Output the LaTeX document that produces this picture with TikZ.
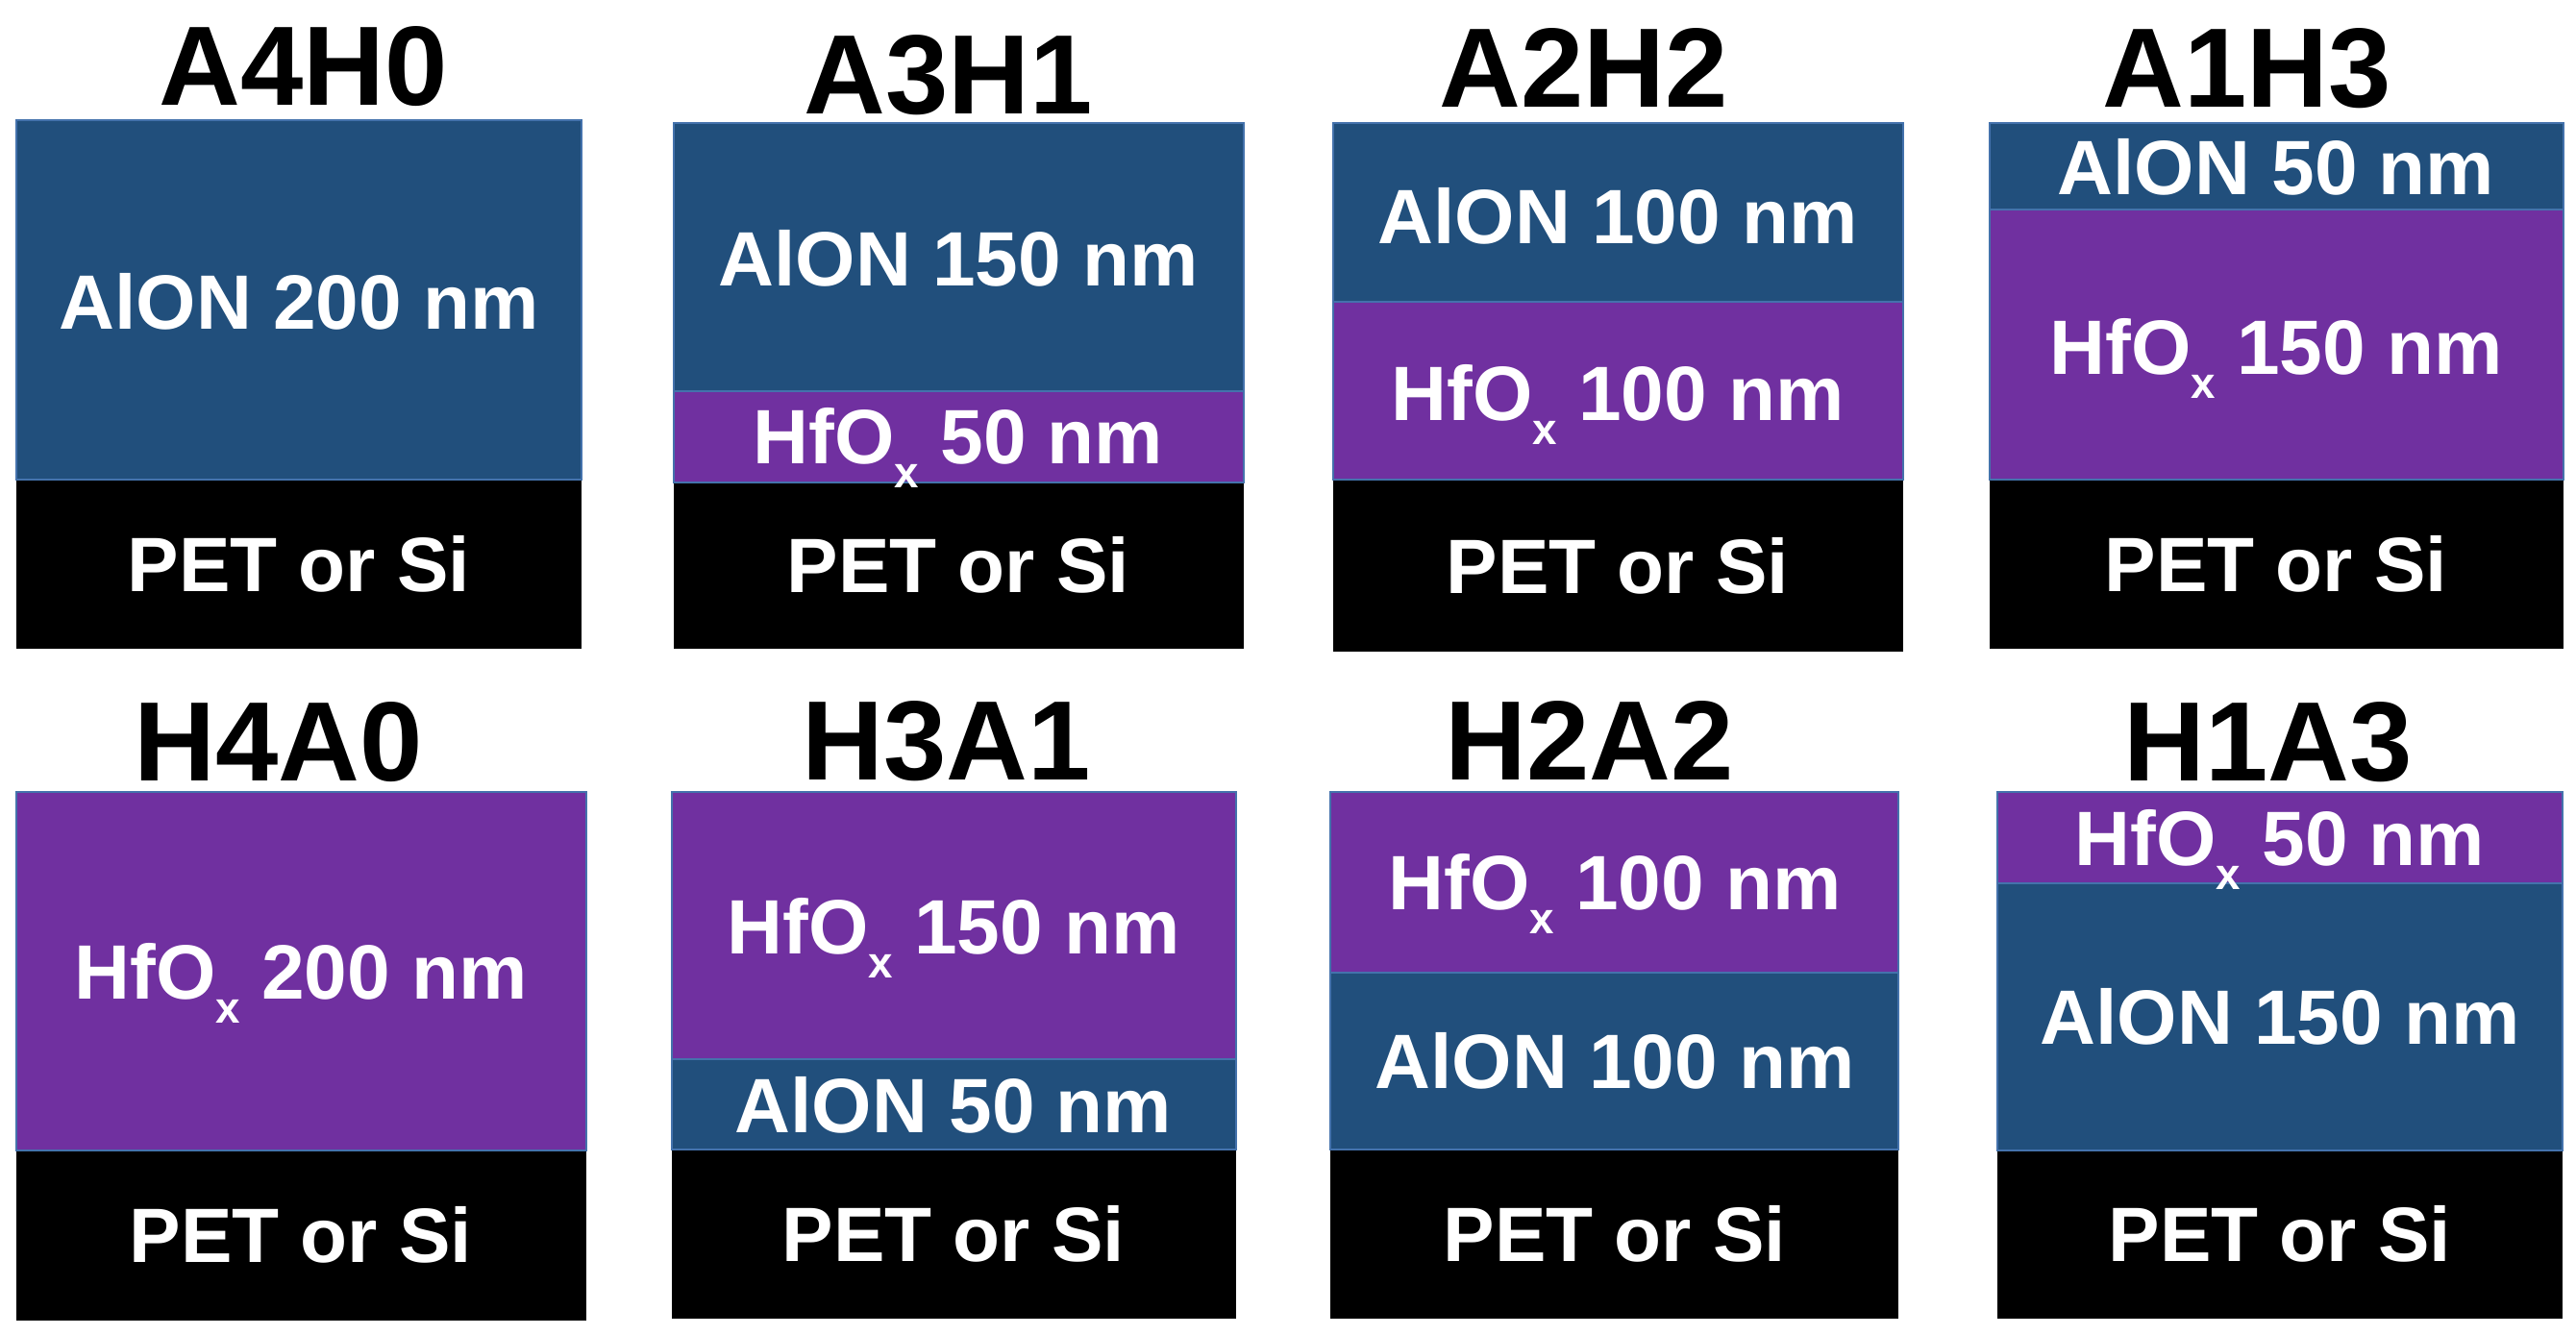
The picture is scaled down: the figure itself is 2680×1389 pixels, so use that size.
\documentclass[tikz,border=0pt]{standalone}
\usepackage{fontspec}
\setmainfont{Liberation Sans}
\definecolor{alon}{RGB}{33,79,124}
\definecolor{hfo}{RGB}{112,48,160}
\definecolor{edgeblue}{RGB}{68,114,172}
\newcommand{\hfox}{HfO\raisebox{-7pt}{\fontsize{13pt}{13pt}\selectfont x}}
\tikzset{
  lbl/.style={text=white, font=\fontsize{22.8pt}{24pt}\selectfont\bfseries, anchor=base, inner sep=0pt},
  ttl/.style={text=black, font=\fontsize{33.4pt}{36pt}\selectfont\bfseries, anchor=base, inner sep=0pt},
  layeredge/.style={draw=edgeblue, line width=0.02cm},
}
\begin{document}
\begin{tikzpicture}[x=0.01cm,y=-0.01cm]
\fill[white] (0,0) rectangle (2680,1389);
\useasboundingbox (0,0) rectangle (2680,1389);

% ---------- Row 1 ----------
% A4H0
\fill[alon] (17,125) rectangle (605,499);
\fill[black] (17,499) rectangle (605,675);
\draw[layeredge] (17,499) rectangle (605,125);
\node[ttl] (t1) at (316,110) {A4H0};
\node[lbl] (l1a) at (311,343) {AlON 200 nm};
\node[lbl] (l1s) at (311,616) {PET or Si};

% A3H1
\fill[alon] (701,128) rectangle (1294,407);
\fill[hfo] (701,407) rectangle (1294,502);
\fill[black] (701,502) rectangle (1294,675);
\draw[layeredge] (701,502) rectangle (1294,128);
\draw[layeredge] (701,407) -- (1294,407);
\node[ttl] (t2) at (987,119) {A3H1};
\node[lbl] (l2a) at (997,298) {AlON 150 nm};
\node[lbl] (l2h) at (997,483) {\hfox{} 50 nm};
\node[lbl] (l2s) at (997,617) {PET or Si};

% A2H2
\fill[alon] (1387,128) rectangle (1980,314);
\fill[hfo] (1387,314) rectangle (1980,499);
\fill[black] (1387,499) rectangle (1980,678);
\draw[layeredge] (1387,499) rectangle (1980,128);
\draw[layeredge] (1387,314) -- (1980,314);
\node[ttl] (t3) at (1648,112) {A2H2};
\node[lbl] (l3a) at (1683,254) {AlON 100 nm};
\node[lbl] (l3h) at (1683,438) {\hfox{} 100 nm};
\node[lbl] (l3s) at (1683,618) {PET or Si};

% A1H3
\fill[alon] (2070,128) rectangle (2667,218);
\fill[hfo] (2070,218) rectangle (2667,499);
\fill[black] (2070,499) rectangle (2667,675);
\draw[layeredge] (2070,499) rectangle (2667,128);
\draw[layeredge] (2070,218) -- (2667,218);
\node[ttl] (t4) at (2338,112) {A1H3};
\node[lbl] (l4a) at (2368,203) {AlON 50 nm};
\node[lbl] (l4h) at (2368,390) {\hfox{} 150 nm};
\node[lbl] (l4s) at (2368,616) {PET or Si};

% ---------- Row 2 ----------
% H4A0
\fill[hfo] (17,824) rectangle (610,1197);
\fill[black] (17,1197) rectangle (610,1374);
\draw[layeredge] (17,1197) rectangle (610,824);
\node[ttl] (t5) at (290,813) {H4A0};
\node[lbl] (l5h) at (313,1040) {\hfox{} 200 nm};
\node[lbl] (l5s) at (313,1314) {PET or Si};

% H3A1
\fill[hfo] (699,824) rectangle (1286,1102);
\fill[alon] (699,1102) rectangle (1286,1196);
\fill[black] (699,1196) rectangle (1286,1372);
\draw[layeredge] (699,1196) rectangle (1286,824);
\draw[layeredge] (699,1102) -- (1286,1102);
\node[ttl] (t6) at (985,812) {H3A1};
\node[lbl] (l6h) at (992,993) {\hfox{} 150 nm};
\node[lbl] (l6a) at (992,1179) {AlON 50 nm};
\node[lbl] (l6s) at (992,1313) {PET or Si};

% H2A2
\fill[hfo] (1384,824) rectangle (1975,1012);
\fill[alon] (1384,1012) rectangle (1975,1196);
\fill[black] (1384,1196) rectangle (1975,1372);
\draw[layeredge] (1384,1196) rectangle (1975,824);
\draw[layeredge] (1384,1012) -- (1975,1012);
\node[ttl] (t7) at (1654,812) {H2A2};
\node[lbl] (l7h) at (1680,947) {\hfox{} 100 nm};
\node[lbl] (l7a) at (1680,1133) {AlON 100 nm};
\node[lbl] (l7s) at (1680,1313) {PET or Si};

% H1A3
\fill[hfo] (2078,824) rectangle (2666,919);
\fill[alon] (2078,919) rectangle (2666,1197);
\fill[black] (2078,1197) rectangle (2666,1372);
\draw[layeredge] (2078,1197) rectangle (2666,824);
\draw[layeredge] (2078,919) -- (2666,919);
\node[ttl] (t8) at (2360,813) {H1A3};
\node[lbl] (l8h) at (2372,901) {\hfox{} 50 nm};
\node[lbl] (l8a) at (2372,1087) {AlON 150 nm};
\node[lbl] (l8s) at (2372,1313) {PET or Si};
\end{tikzpicture}
\end{document}
